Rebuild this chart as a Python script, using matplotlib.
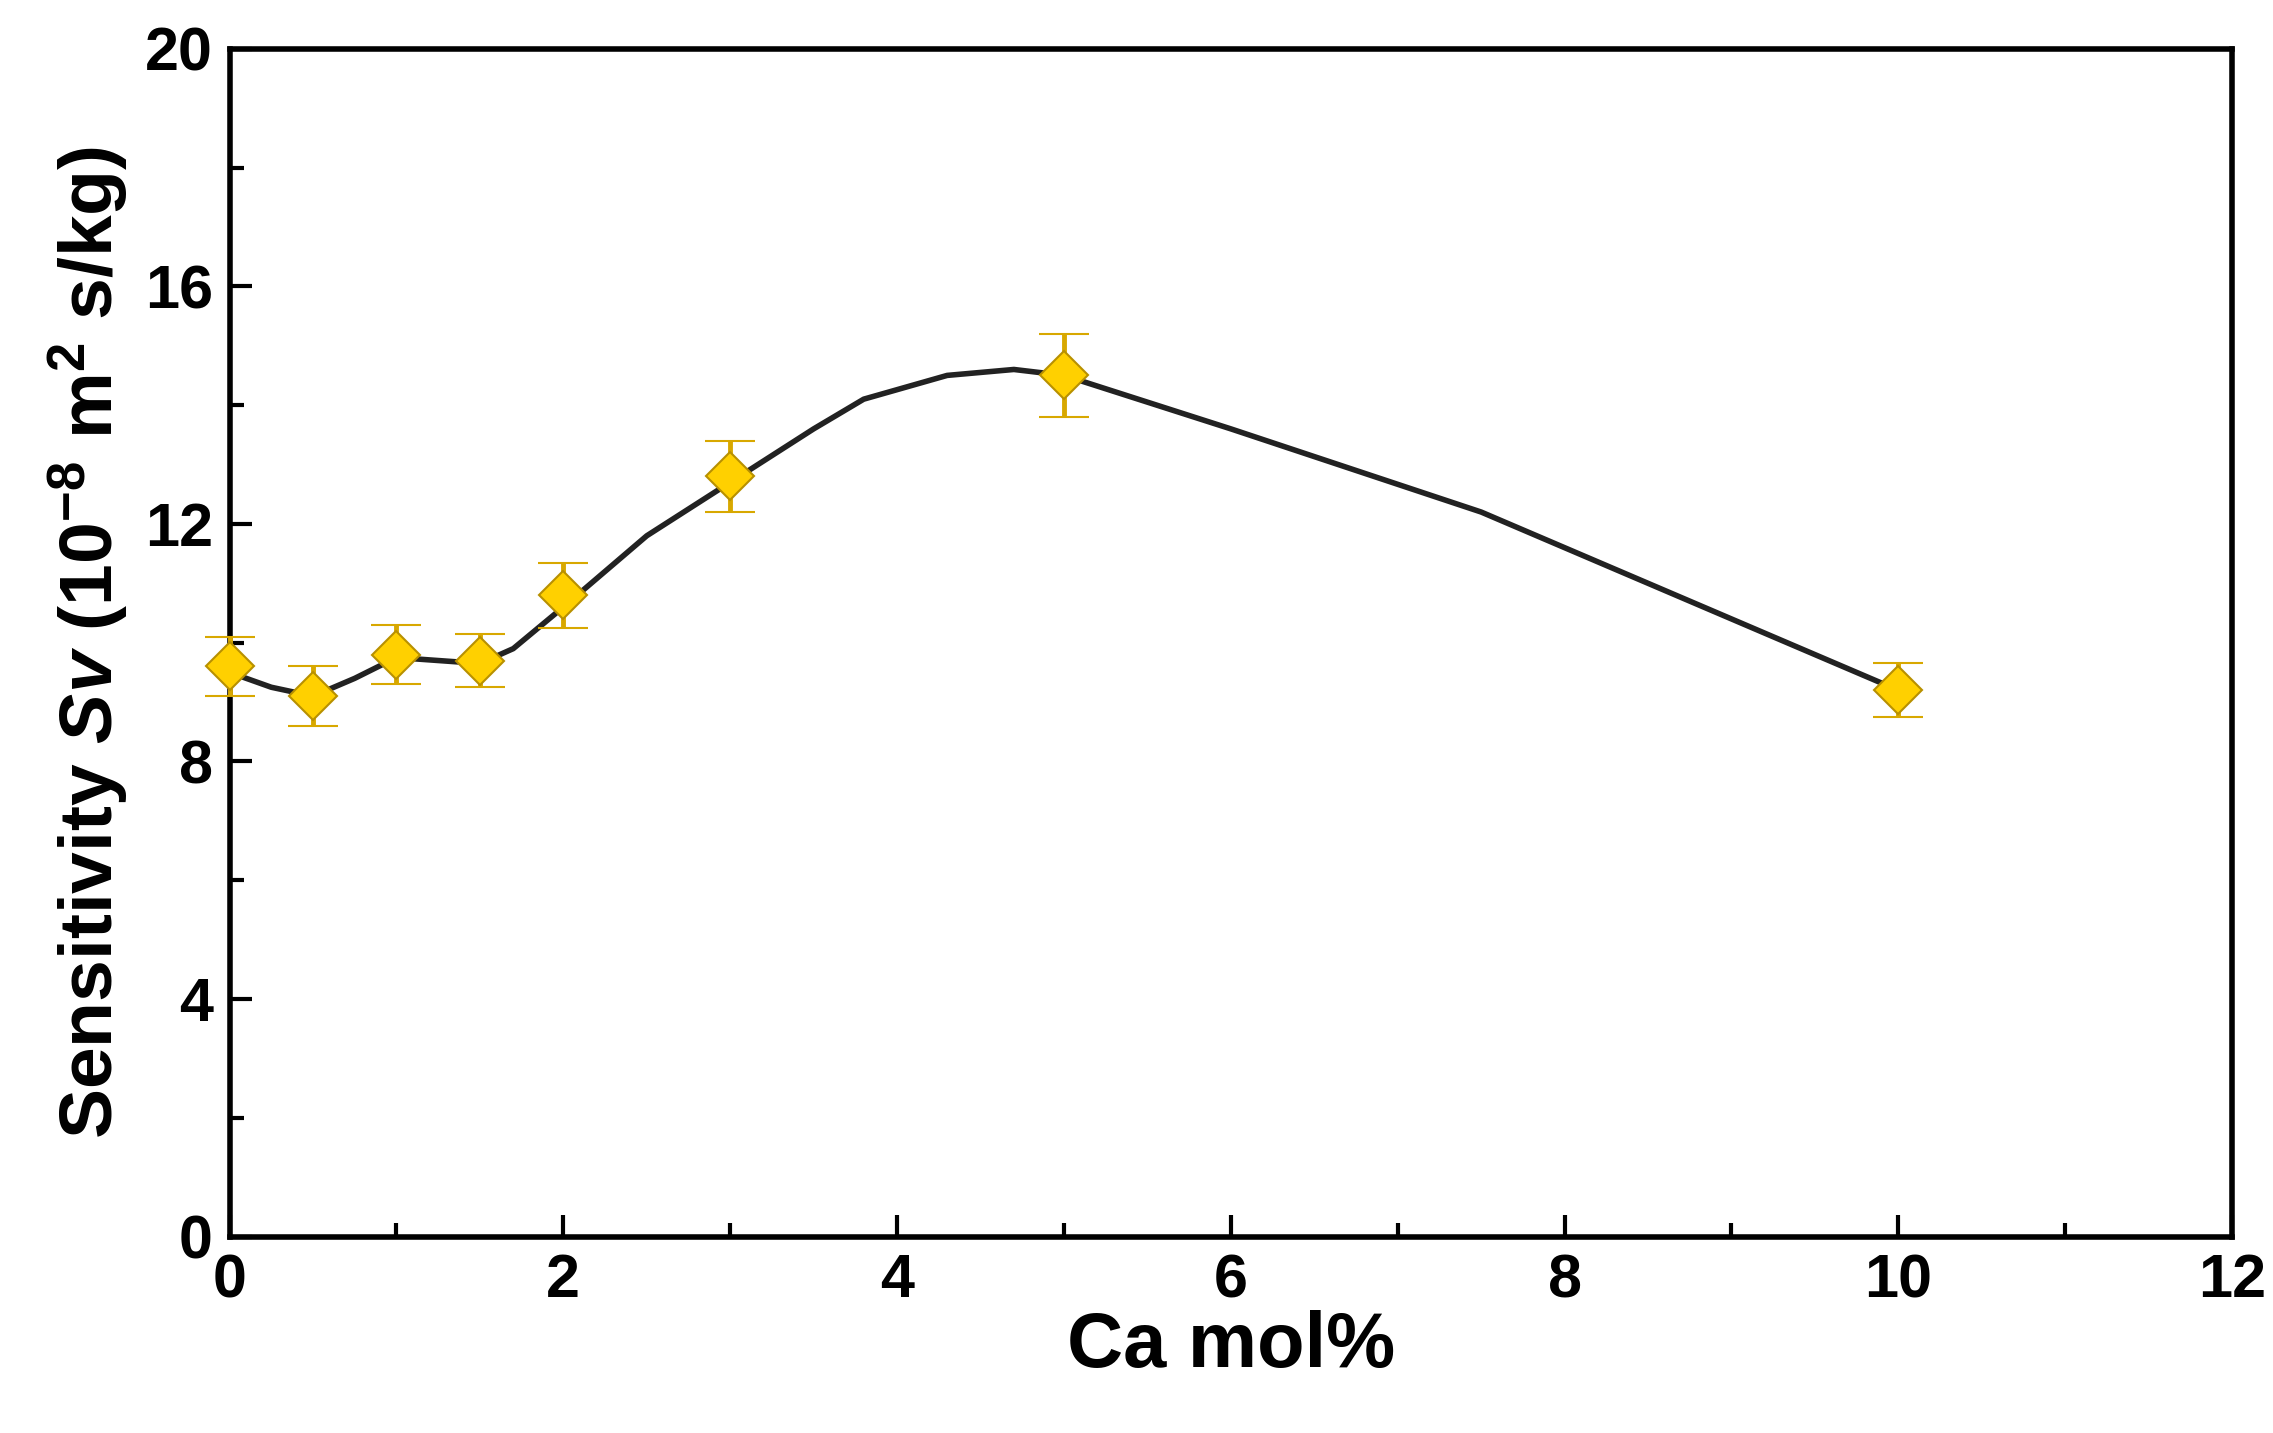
import matplotlib
matplotlib.use('Agg')
import matplotlib.pyplot as plt
from matplotlib.ticker import MultipleLocator

# measured points
ca = [0, 0.5, 1, 1.5, 2, 3, 5, 10]
sv = [9.6, 9.1, 9.8, 9.7, 10.8, 12.8, 14.5, 9.2]
sv_err = [0.5, 0.5, 0.5, 0.45, 0.55, 0.6, 0.7, 0.45]

# guide curve
curve_x = [0, 0.25, 0.5, 0.75, 1, 1.25, 1.5, 1.7, 2, 2.5, 3, 3.5, 3.8, 4.3, 4.7, 5, 6, 7.5, 10]
curve_y = [9.5, 9.25, 9.1, 9.4, 9.75, 9.7, 9.65, 9.9, 10.6, 11.8, 12.7, 13.6, 14.1, 14.5, 14.6, 14.5, 13.6, 12.2, 9.2]

plt.rcParams['font.family'] = ['Liberation Sans', 'DejaVu Sans']
plt.rcParams['font.weight'] = 'bold'
plt.rcParams['mathtext.fontset'] = 'custom'
plt.rcParams['mathtext.rm'] = 'Liberation Sans:bold'
plt.rcParams['mathtext.it'] = 'Liberation Sans:bold:italic'
plt.rcParams['mathtext.bf'] = 'Liberation Sans:bold'

fig = plt.figure(figsize=(22.73, 14.33), dpi=100)
ax = fig.add_axes([0.101, 0.137, 0.881, 0.829])

ax.plot(curve_x, curve_y, color='#222222', lw=4, zorder=2)
eb = ax.errorbar(ca, sv, yerr=sv_err, fmt='D', ms=24, color='#FFD000',
                 mec='#B89000', mew=1.5, ecolor='#D8A800', elinewidth=3.5,
                 capsize=18, capthick=3.5, zorder=3)
for a in eb.lines[0:1] + eb.lines[1] + eb.lines[2]:
    a.set_clip_on(False)
eb.lines[0].set_clip_on(False)

ax.set_xlim(0, 12)
ax.set_ylim(0, 20)
ax.xaxis.set_major_locator(MultipleLocator(2))
ax.xaxis.set_minor_locator(MultipleLocator(1))
ax.yaxis.set_major_locator(MultipleLocator(4))
ax.yaxis.set_minor_locator(MultipleLocator(2))
ax.tick_params(which='both', direction='in', width=3, labelsize=44, pad=12)
ax.tick_params(which='major', length=16)
ax.tick_params(which='minor', length=10)
for s in ax.spines.values():
    s.set_linewidth(4)

ax.set_xlabel('Ca mol%', fontsize=56, fontweight='bold', labelpad=0)
ax.set_ylabel('Sensitivity $\\mathit{Sv}$ (10$^{-8}$ m$^{2}$ s/kg)',
              fontsize=54, fontweight='bold', labelpad=10)

fig.savefig('out.png', dpi=100)
